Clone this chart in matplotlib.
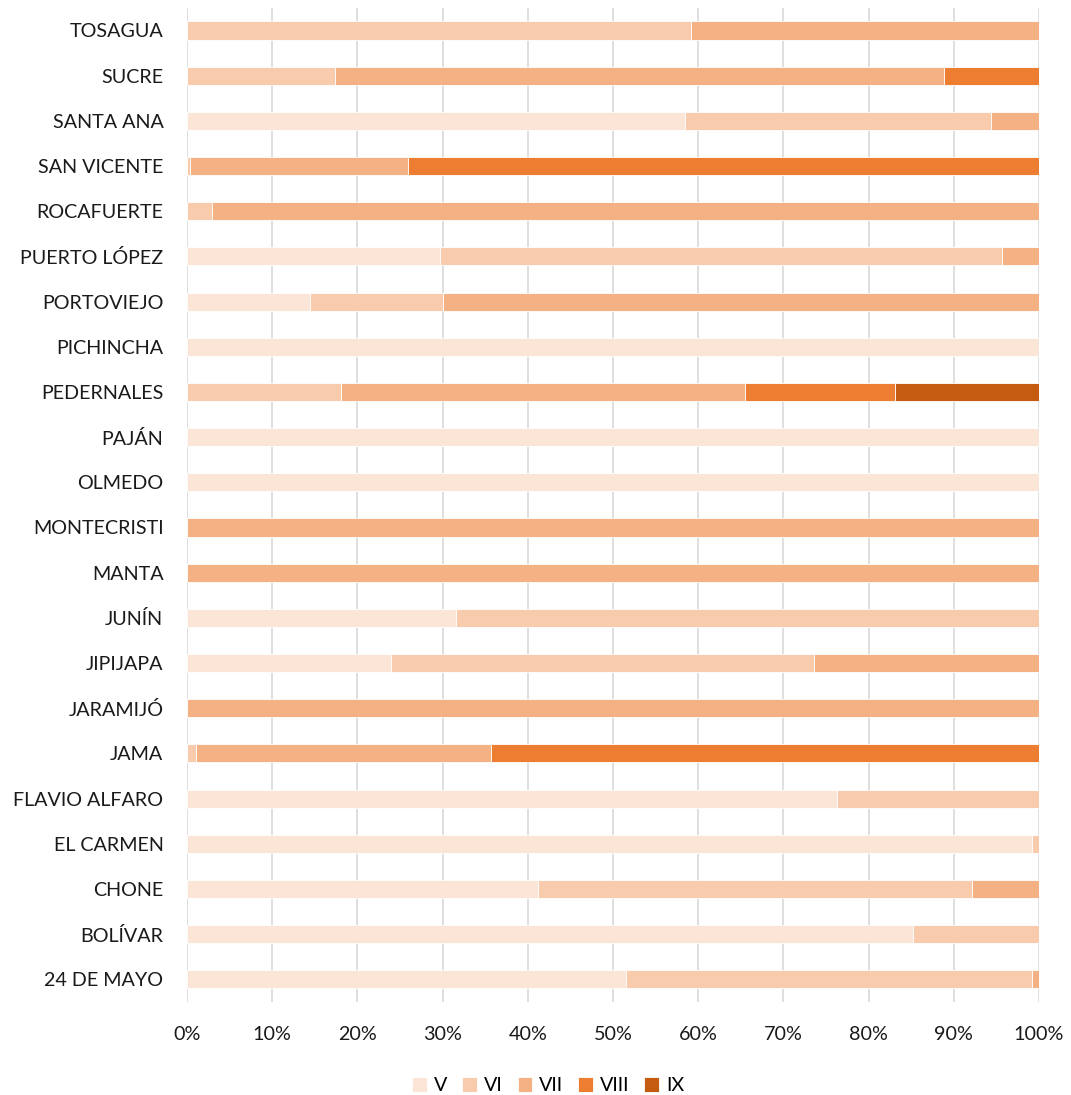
import numpy as np
import matplotlib
matplotlib.use("Agg")
import matplotlib.pyplot as plt
from matplotlib.ticker import PercentFormatter

plt.rcParams['font.family'] = ['Lato', 'DejaVu Sans']

# cantones (de abajo hacia arriba)
cantones = ['24 DE MAYO', 'BOLÍVAR', 'CHONE', 'EL CARMEN', 'FLAVIO ALFARO', 'JAMA',
            'JARAMIJÓ', 'JIPIJAPA', 'JUNÍN', 'MANTA', 'MONTECRISTI', 'OLMEDO',
            'PAJÁN', 'PEDERNALES', 'PICHINCHA', 'PORTOVIEJO', 'PUERTO LÓPEZ',
            'ROCAFUERTE', 'SAN VICENTE', 'SANTA ANA', 'SUCRE', 'TOSAGUA']

series = ['V', 'VI', 'VII', 'VIII', 'IX']

v    = [51.5, 85.2, 41.2, 99.2, 76.3, 0.0, 0.0, 23.9, 31.6, 0.0, 0.0, 100.0,
        100.0, 0.0, 100.0, 14.4, 29.7, 0.0, 0.0, 58.5, 0.0, 0.0]
vi   = [47.7, 14.8, 50.9, 0.8, 23.7, 1.1, 0.0, 49.7, 68.4, 0.0, 0.0, 0.0,
        0.0, 18.1, 0.0, 15.6, 66.0, 2.9, 0.3, 35.9, 17.4, 59.2]
vii  = [0.8, 0.0, 7.9, 0.0, 0.0, 34.6, 100.0, 26.4, 0.0, 100.0, 100.0, 0.0,
        0.0, 47.4, 0.0, 70.0, 4.3, 97.1, 25.6, 5.6, 71.4, 40.8]
viii = [0.0, 0.0, 0.0, 0.0, 0.0, 64.3, 0.0, 0.0, 0.0, 0.0, 0.0, 0.0,
        0.0, 17.6, 0.0, 0.0, 0.0, 0.0, 74.1, 0.0, 11.2, 0.0]
ix   = [0.0, 0.0, 0.0, 0.0, 0.0, 0.0, 0.0, 0.0, 0.0, 0.0, 0.0, 0.0,
        0.0, 16.9, 0.0, 0.0, 0.0, 0.0, 0.0, 0.0, 0.0, 0.0]

colores = ['#FBE5D6', '#F8CBAD', '#F4B183', '#ED7D31', '#C55A11']

datos = np.array([v, vi, vii, viii, ix])
datos = datos / datos.sum(axis=0) * 100

fig = plt.figure(figsize=(10.71, 10.95), dpi=100)
ax = fig.add_axes([0.1746, 0.085, 0.7955, 0.9078])

y = np.arange(len(cantones))
izq = np.zeros(len(cantones))
for fila, nombre, color in zip(datos, series, colores):
    ax.barh(y, fila, left=izq, height=0.4, color=color, edgecolor='white',
            linewidth=0.6, label=nombre, zorder=3)
    izq += fila

ax.set_xlim(0, 100)
ax.set_ylim(-0.5, len(cantones) - 0.5)
ax.set_yticks(y)
ax.set_yticklabels(cantones, fontsize=14.2, color='#1a1a1a')
ax.set_xticks(np.arange(0, 101, 10))
ax.xaxis.set_major_formatter(PercentFormatter(decimals=0))
ax.tick_params(axis='x', labelsize=14.2, colors='#1a1a1a', length=0, pad=17)
ax.tick_params(axis='y', length=0, pad=17)
ax.grid(axis='x', color='#D9D9D9', linewidth=1.2, zorder=0)
for s in ax.spines.values():
    s.set_visible(False)

ax.legend(loc='upper center', bbox_to_anchor=(0.424, -0.058), ncol=5,
          frameon=False, fontsize=14.2, handlelength=0.75, handleheight=0.75,
          handletextpad=0.35, columnspacing=0.75)

fig.savefig('out.png', dpi=100, facecolor='white')
